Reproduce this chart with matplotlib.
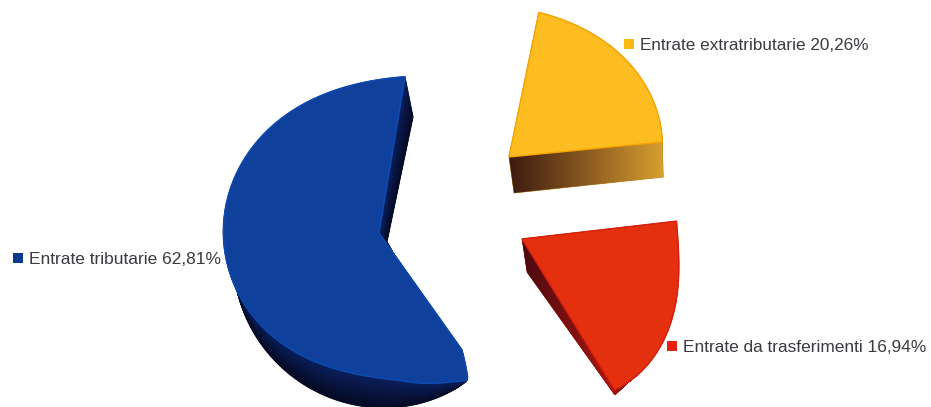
import numpy as np
import matplotlib
matplotlib.use("Agg")
import matplotlib.pyplot as plt
from matplotlib.path import Path
from matplotlib.patches import PathPatch
from matplotlib.colors import LinearSegmentedColormap, to_rgb

# ---- data ----
labels = ["Entrate tributarie", "Entrate da trasferimenti", "Entrate extratributarie"]
shares = [62.81, 16.94, 20.26]
value_text = ["62,81%", "16,94%", "20,26%"]

# ---- styles ----
top_colors = ["#0F409C", "#E5300F", "#FDBD20"]
edge_colors = ["#0C4CB4", "#D8200C", "#F7A400"]
key_colors = ["#0B3A8C", "#E8200F", "#FDB913"]
side_near = ["#0A1F5C", "#B01810", "#D8A030"]
side_far = ["#050A22", "#4A0A10", "#3C1A10"]
side_mid = [None, "#7A1010", "#8A5A20"]

# perspective of each slice: apex in image pixels, then (angle, radius) along its outline.
# The angles are only perspective corrections: the sweep comes from `shares`.
top_apex = [(379, 233), (522, 239), (509, 157)]
top_first = [80.5, -58.4, 5.6]
top_gain = [224.9 / 226.1, 65.0 / 61.0, 72.7 / 72.9]
top_profile = [
    [(0, 157), (9, 156), (41, 150), (50, 148), (94.5, 158), (122, 154), (140, 146),
     (171, 144.5), (197.5, 148.5)],
    [(0, 177), (13, 177), (26, 173), (32, 169), (40, 164), (59, 155), (65, 156)],
    [(0, 155), (9, 153), (30, 153), (36, 154), (46, 148), (61, 147), (72.7, 148)],
]
top_tail = [[(215, 165), (220.7, 172), (224.9, 143)], [], []]
bot_apex = [(387, 242), (527, 272), (514, 193)]
bot_first = [78.2, -54.4, 6.1]
bot_gain = [221.5 / 226.1, 60.0 / 61.0, 72.0 / 72.9]
bot_profile = [
    [(0, 128), (50, 135), (95, 152), (120.6, 158), (128.7, 157), (144.6, 163.5),
     (160, 165.7), (172.8, 167), (184.8, 166), (202.4, 164), (221.5, 161)],
    [(0, 151), (60, 135)],
    [(0, 150), (72, 120)],
]
bot_tail = [[], [], []]
# legend placement (key centre x, key centre y, text x)
legend_pos = [(18, 258, 29), (672, 346, 683), (629, 44, 640)]
FONT_SIZES = [12.5, 12.45, 12.37]


def outline(apex, first, sweep, gain, profile, tail, n=300):
    prof = np.array(profile, float)
    span = sweep * gain
    t = np.linspace(0, 1, n)
    deg = t * span
    order = min(len(prof) - 1, 5 if len(prof) >= 9 else 3)
    r = np.polyval(np.polyfit(prof[:, 0], prof[:, 1], order), deg)
    if tail:
        tl = np.array(tail, float)
        mask = deg > prof[-1, 0]
        r[mask] = np.interp(deg[mask], np.r_[prof[-1, 0], tl[:, 0]],
                            np.r_[np.polyval(np.polyfit(prof[:, 0], prof[:, 1], order), prof[-1, 0]), tl[:, 1]])
    th = np.radians(first + deg)
    x = apex[0] + r * np.cos(th)
    y = apex[1] - r * np.sin(th)
    return np.r_[[apex], np.c_[x, y]]


fig = plt.figure(figsize=(9.31, 4.07), dpi=100, facecolor="white")
ax = fig.add_axes([0, 0, 1, 1])
ax.axis("off")

sweeps = np.array(shares) / sum(shares) * 360

for i in range(len(shares)):
    top = outline(top_apex[i], top_first[i], sweeps[i], top_gain[i], top_profile[i], top_tail[i])
    bot = outline(bot_apex[i], bot_first[i], sweeps[i], bot_gain[i], bot_profile[i], bot_tail[i])

    near, far = np.array(to_rgb(side_near[i])), np.array(to_rgb(side_far[i]))
    n = 45
    for k in range(n + 1):
        f = k / n
        col = far * (1 - f) + near * f if i == 0 else near * 0.85
        ax.fill(*(bot * (1 - f) + top * f).T, color=col, lw=0.6, zorder=2)
    if i > 0:
        # flat cut face with a horizontal gradient
        cmap = LinearSegmentedColormap.from_list("s", [side_far[i], side_mid[i], side_near[i]])
        quad = np.array([top[0], top[1], bot[1], bot[0], top[0]])
        im = ax.imshow(np.linspace(0, 1, 256)[None, :], cmap=cmap, aspect="auto",
                       extent=[quad[:, 0].min(), quad[:, 0].max(),
                               quad[:, 1].max(), quad[:, 1].min()], zorder=2.5)
        im.set_clip_path(PathPatch(Path(quad), transform=ax.transData))
    ax.fill(*top.T, facecolor=top_colors[i], edgecolor=edge_colors[i], lw=1.0, zorder=3)

    kx, ky, tx = legend_pos[i]
    ax.scatter([kx], [ky], marker="s", s=62, color=key_colors[i], lw=0, zorder=5)
    ax.text(tx, ky + 1, f"{labels[i]} {value_text[i]}", fontsize=FONT_SIZES[i],
            family="Liberation Sans", color="#3A3A40", va="center", ha="left", zorder=6)

ax.set_xlim(0, 931)
ax.set_ylim(407, 0)
fig.savefig("out.png", dpi=100, facecolor="white")
